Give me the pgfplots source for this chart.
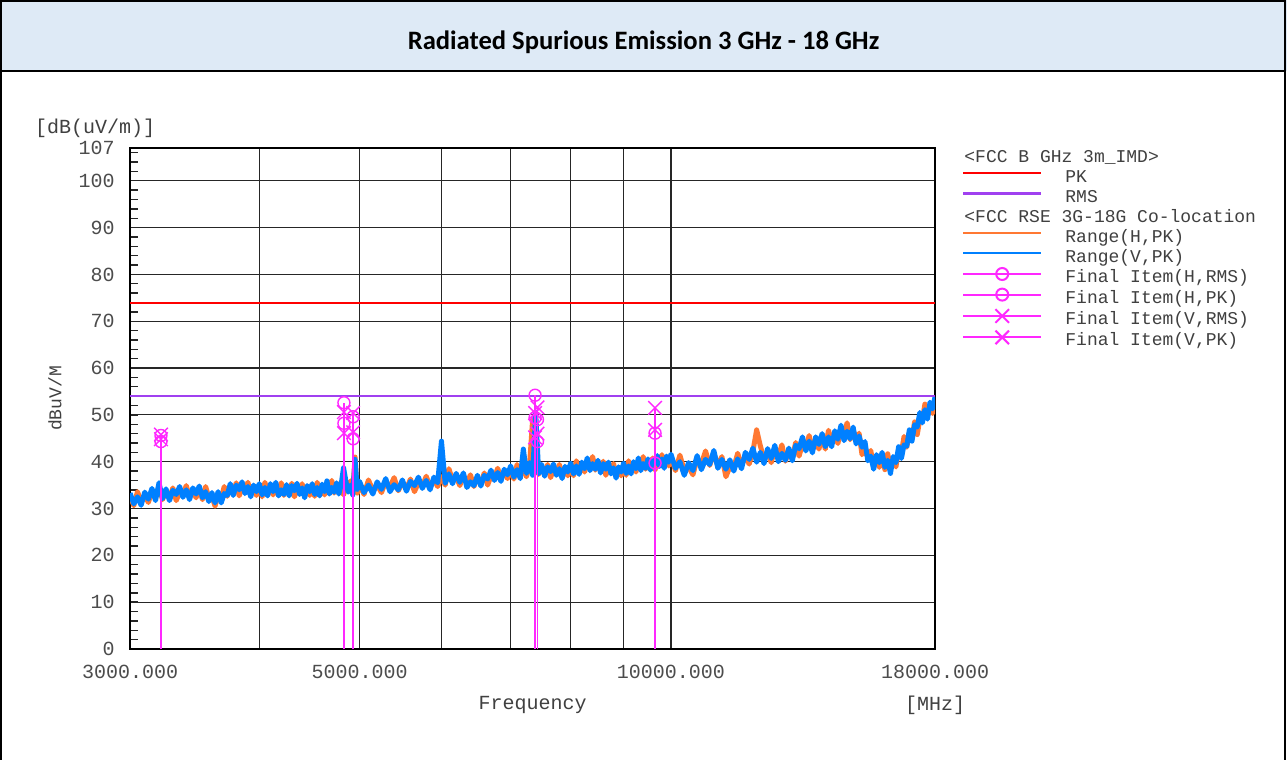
\documentclass[border=0pt]{standalone}
\usepackage{fontspec}
\usepackage{pgfplots}
\usepackage{pgfplotstable}
\pgfplotsset{compat=1.18}
\newfontfamily\mono{Liberation Mono}
\newfontfamily\carlito{Carlito}
\definecolor{headerblue}{HTML}{DEEAF6}
\definecolor{rangeorange}{RGB}{255,120,50}
\definecolor{rangeblue}{RGB}{0,128,255}
\definecolor{finalmag}{RGB}{255,40,255}
\definecolor{rmspurple}{RGB}{160,64,240}
\definecolor{pkred}{RGB}{255,0,0}

% measured range traces, f in MHz
\pgfplotstableread{
f V H
3000 33.3 32.8
3025 31.0 30.6
3050 32.5 33.6
3075 30.7 31.5
3100 33.5 32.8
3125 32.0 31.3
3150 34.3 33.7
3175 31.7 32.7
3200 35.5 34.7
3225 32.1 31.9
3250 34.2 33.7
3275 31.7 32.2
3300 33.9 34.4
3325 33.0 31.7
3350 34.7 33.5
3375 32.4 32.9
3400 34.0 34.9
3425 31.9 32.5
3450 34.4 33.9
3475 33.1 32.3
3500 34.8 34.3
3525 32.3 31.9
3550 33.6 34.7
3575 31.5 32.3
3600 33.4 32.7
3625 31.2 30.5
3650 33.6 33.0
3675 31.2 32.2
3700 33.2 34.7
3725 32.8 32.6
3750 35.3 34.8
3775 32.8 33.3
3800 35.0 35.5
3825 34.0 32.7
3850 35.7 34.5
3875 33.2 33.7
3900 34.7 35.6
3925 32.5 33.1
3950 35.0 34.5
3975 33.6 32.8
4000 35.3 34.8
4025 32.9 32.5
4050 34.5 35.6
4075 32.7 33.5
4100 35.3 34.6
4125 33.6 32.9
4150 35.6 35.0
4175 32.7 33.7
4200 34.0 35.5
4225 33.0 32.8
4250 35.1 34.6
4275 32.7 33.2
4300 34.9 35.4
4325 33.8 32.5
4350 35.4 34.2
4375 33.0 33.5
4400 34.4 35.3
4425 32.3 32.9
4450 34.9 34.4
4475 33.6 32.8
4500 35.3 34.8
4525 33.0 32.6
4550 34.5 35.6
4575 32.7 33.5
4600 35.2 34.5
4625 33.6 32.9
4650 35.9 35.3
4675 33.1 34.1
4700 34.5 36.0
4725 33.5 33.3
4750 35.5 35.0
4775 33.1 33.6
4800 35.2 35.7
4825 38.7 32.9
4850 35.9 34.7
4875 33.5 34.0
4900 35.0 35.9
4925 32.9 33.5
4950 40.5 41.0
4975 34.1 33.3
5000 35.8 35.3
5050 33.4 33.0
5100 35.0 36.1
5150 33.1 33.9
5200 35.7 35.0
5250 34.1 33.4
5300 36.4 35.8
5350 33.6 34.6
5400 35.1 36.6
5450 34.0 33.8
5500 36.1 35.6
5550 33.7 34.2
5600 35.8 36.3
5650 34.9 33.6
5700 36.7 35.5
5750 34.3 34.8
5800 36.0 36.9
5850 34.0 34.6
5900 36.7 36.2
5950 35.5 34.7
6000 44.4 36.8
6050 35.4 35.0
6100 37.4 38.5
6150 35.3 36.1
6200 37.5 36.8
6250 35.6 34.9
6300 37.6 37.0
6350 34.5 35.5
6400 35.7 37.2
6450 34.9 34.7
6500 37.1 36.6
6550 34.8 35.3
6600 37.1 37.6
6650 36.3 35.0
6700 38.2 37.0
6750 36.0 36.5
6800 37.7 38.6
6850 35.8 36.4
6900 38.4 37.9
6950 37.2 36.4
7000 39.1 38.6
7050 36.7 36.3
7100 38.3 39.4
7150 36.4 37.2
7200 42.7 38.3
7250 37.5 36.8
7300 39.8 39.2
7350 37.1 49.0
7400 50.5 40.1
7450 37.5 37.3
7500 39.4 38.9
7550 36.9 37.4
7600 38.9 39.4
7650 37.9 36.6
7700 39.5 38.3
7750 37.1 37.6
7800 38.5 39.4
7850 36.4 37.0
7900 39.0 38.5
7950 37.8 37.0
8000 39.7 39.2
8050 37.4 37.0
8100 39.1 40.2
8150 37.3 38.1
8200 39.9 39.2
8250 38.5 37.8
8300 40.8 40.2
8350 38.1 39.1
8400 39.6 41.1
8450 38.4 38.2
8500 40.3 39.8
8550 37.6 38.1
8600 39.6 40.1
8650 38.4 37.1
8700 39.9 38.7
8750 37.4 37.9
8800 38.7 39.6
8850 36.5 37.1
8900 38.9 38.4
8950 37.8 37.0
9000 39.7 39.2
9050 37.5 37.1
9100 39.1 40.2
9150 37.4 38.2
9200 40.0 39.3
9250 38.5 37.8
9300 40.8 40.2
9350 38.1 39.1
9400 39.6 41.1
9450 38.6 38.4
9500 40.6 40.1
9550 38.2 38.7
9600 40.3 40.8
9650 39.5 38.2
9700 41.3 40.1
9750 39.0 39.5
9800 40.6 41.5
9850 38.6 39.2
9900 41.2 40.7
9950 39.9 39.1
10000 41.6 41.1
10100 38.6 38.1
10200 40.0 41.4
10300 37.1 38.1
10400 39.8 38.9
10500 38.1 37.2
10600 41.3 40.6
10700 38.3 39.5
10800 40.5 42.3
10900 39.4 39.2
11000 42.4 41.8
11100 38.6 39.2
11200 40.5 41.1
11300 38.4 36.8
11400 40.4 38.9
11500 38.0 38.7
11600 40.6 41.8
11700 38.5 39.2
11800 42.0 41.3
11900 40.5 39.5
12000 42.9 42.2
12100 39.9 46.8
12200 42.0 43.4
12300 39.6 40.6
12400 42.8 41.9
12500 40.7 39.8
12600 43.5 42.8
12700 40.0 41.2
12800 41.8 43.6
12900 40.3 40.1
13000 42.9 42.3
13100 40.2 40.8
13200 43.5 44.1
13300 42.8 41.2
13400 45.3 43.8
13500 42.3 43.0
13600 44.4 45.6
13700 41.9 42.6
13800 45.3 44.6
13900 43.7 42.7
14000 46.0 45.3
14100 43.2 42.7
14200 45.3 46.7
14300 43.2 44.2
14400 46.6 45.7
14500 44.8 43.9
14600 47.8 47.1
14700 44.5 45.7
14800 46.5 48.3
14900 44.9 44.7
15000 47.4 46.8
15100 43.8 44.4
15200 45.5 46.1
15300 43.1 41.5
15400 44.3 42.8
15500 40.2 40.9
15600 41.2 42.4
15700 38.4 39.1
15800 41.5 40.8
15900 39.8 38.8
16000 42.0 41.3
16100 38.8 38.3
16200 40.3 41.7
16300 37.5 38.5
16400 41.1 40.2
16500 39.8 38.9
16600 43.2 42.5
16700 40.7 41.9
16800 43.6 45.4
16900 43.3 43.1
17000 46.8 46.2
17100 44.4 45.0
17200 47.9 48.5
17300 47.4 45.8
17400 50.5 49.0
17500 48.3 49.0
17600 51.1 52.3
17700 49.1 49.8
17800 52.7 52.0
17900 51.3 50.3
18000 53.9 53.2
}\rse

\begin{document}
\begin{tikzpicture}
\useasboundingbox (0pt,0pt) rectangle (643.5pt,-380pt);
\fill[white] (0pt,0pt) rectangle (643.5pt,-380pt);
\fill[headerblue] (0pt,0pt) rectangle (643.5pt,-35.5pt);
\draw[line width=1pt] (0.7pt,-380pt) -- (0.7pt,-0.5pt) -- (642.6pt,-0.5pt) -- (642.6pt,-380pt);
\draw[line width=1pt] (0.7pt,-35.5pt) -- (642.6pt,-35.5pt);
\node[font=\carlito\bfseries\fontsize{13.3}{15}\selectfont] at (321.75pt,-21pt) {Radiated Spurious Emission 3 GHz - 18 GHz};

\begin{axis}[
  scale only axis,
  width=402.5pt, height=250.5pt,
  at={(65pt,-324.5pt)}, anchor=south west,
  clip mode=individual,
  xmode=log,
  xmin=3000, xmax=18000, ymin=0, ymax=107,
  xtick={3000,5000,10000,18000},
  xticklabels={3000.000,5000.000,10000.000,18000.000},
  minor xtick={4000,6000,7000,8000,9000},
  ytick={0,10,20,30,40,50,60,70,80,90,100,107},
  yticklabels={0,10,20,30,40,50,60,70,80,90,100,107},
  minor ytick={2,4,...,106},
  xmajorgrids, xminorgrids, ymajorgrids,
  grid style={black!85, line width=0.6pt},
  minor grid style={black!85, line width=0.6pt},
  tick align=inside, ytick pos=left, xtick pos=bottom,
  major tick length=4pt, minor tick length=4pt,
  tick style={black!85, line width=0.7pt},
  axis line style={black, line width=0.8pt},
  tick label style={font=\mono\fontsize{10}{12}\selectfont, text=black!70},
  xticklabel style={anchor=center, inner sep=0pt, yshift=-11.5pt},
  yticklabel style={anchor=east, inner sep=0pt, xshift=-7.5pt},
  xlabel={Frequency},
  xlabel style={at={(axis description cs:0.5,-0.112)}, anchor=center, font=\mono\fontsize{10}{12}\selectfont, text=black!75},
  ylabel={dBuV/M},
  ylabel style={at={(axis description cs:-0.0932,0.5)}, anchor=center, font=\mono\fontsize{9}{11}\selectfont, text=black!75},
  legend image code/.code={\draw[mark repeat=2,mark phase=2,#1] plot coordinates {(0pt,2.3pt) (19.5pt,2.3pt) (39pt,2.3pt)};},
  legend style={at={(axis description cs:1.0335,1.0)}, anchor=north west,
    draw=none, fill=none, inner sep=0pt, outer sep=0pt, row sep=0pt,
    font=\mono\fontsize{9}{10}\selectfont\color{black!75},
    nodes={inner sep=0pt, text height=7pt, text depth=3pt},
    column sep=11.5pt},
  legend cell align=left,
]
% range traces
\addplot[color=rangeorange, line width=2.5pt, line join=round, forget plot] table[x=f, y=H] {\rse};
\addplot[color=rangeblue, line width=2.5pt, line join=round, forget plot] table[x=f, y=V] {\rse};
% limits
\addplot[color=pkred, line width=1pt, forget plot] coordinates {(3000,74) (18000,74)};
\addplot[color=rmspurple, line width=1.2pt, forget plot] coordinates {(3000,54) (18000,54)};
% final items
\addplot[color=finalmag, line width=0.7pt, ycomb, mark=o, mark size=3pt, forget plot] coordinates {
 (3214,44.3) (4829,48.2) (4929,44.9) (7390,49.4) (7430,44.3) (9652,39.7)};
\addplot[color=finalmag, line width=0.7pt, ycomb, mark=o, mark size=3pt, forget plot] coordinates {
 (3214,45.6) (4829,52.6) (4929,49.6) (7390,54.2) (7430,49.0) (9652,46.1)};
\addplot[color=finalmag, line width=0.7pt, ycomb, mark=x, mark size=4.8pt, forget plot] coordinates {
 (3214,44.8) (4829,46.1) (4929,46.3) (7390,45.2) (7430,46.0) (9652,46.8)};
\addplot[color=finalmag, line width=0.7pt, ycomb, mark=x, mark size=4.8pt, forget plot] coordinates {
 (3214,45.8) (4829,50.6) (4929,50.4) (7390,50.4) (7430,51.6) (9652,51.5)};

\addlegendimage{empty legend}
\addlegendentry{\hspace{-50.5pt}<FCC B GHz 3m\_IMD>}
\addlegendimage{color=pkred, line width=1pt}
\addlegendentry{PK}
\addlegendimage{color=rmspurple, line width=1.2pt}
\addlegendentry{RMS}
\addlegendimage{empty legend}
\addlegendentry{\hspace{-50.5pt}<FCC RSE 3G-18G Co-location}
\addlegendimage{color=rangeorange, line width=1pt}
\addlegendentry{Range(H,PK)}
\addlegendimage{color=rangeblue, line width=1pt}
\addlegendentry{Range(V,PK)}
\addlegendimage{color=finalmag, line width=1pt, mark=o, mark size=3pt}
\addlegendentry{Final Item(H,RMS)}
\addlegendimage{color=finalmag, line width=1pt, mark=o, mark size=3pt}
\addlegendentry{Final Item(H,PK)}
\addlegendimage{color=finalmag, line width=1pt, mark=x, mark size=4.8pt}
\addlegendentry{Final Item(V,RMS)}
\addlegendimage{color=finalmag, line width=1pt, mark=x, mark size=4.8pt}
\addlegendentry{Final Item(V,PK)}

\node[font=\mono\fontsize{10}{12}\selectfont, text=black!75] at (axis description cs:-0.0435,1.04) {[dB(uV/m)]};
\node[font=\mono\fontsize{10}{12}\selectfont, text=black!75] at (axis description cs:1.0,-0.112) {[MHz]};
\end{axis}
\end{tikzpicture}
\end{document}
